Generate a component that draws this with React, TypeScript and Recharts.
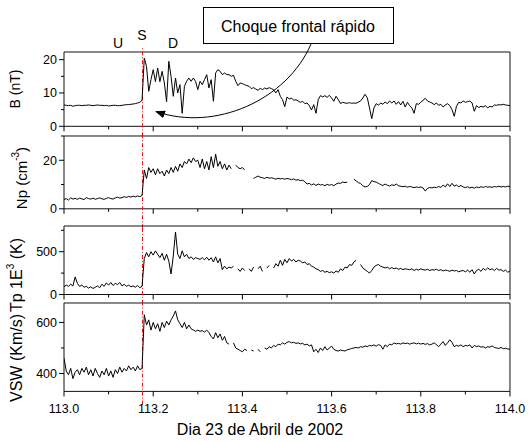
import React from "react";
import { LineChart, Line, XAxis, YAxis, ReferenceArea, ReferenceLine } from "recharts";

const START_DAY = 113.0;
const STEP_DAY = 0.005;
const SHOCK_DAY = 113.176;

const xTicks = [113.0, 113.1, 113.2, 113.3, 113.4, 113.5, 113.6, 113.7, 113.8, 113.9, 114.0];
const xMajor = [113.0, 113.2, 113.4, 113.6, 113.8, 114.0];

// B (nT)
const bField = [
  6.4, 6.3, 6.2, 6.3, 6.0, 6.2, 6.3, 6.3, 6.2, 6.3,
  6.3, 6.4, 6.3, 6.2, 6.3, 6.4, 6.3, 6.3, 6.2, 6.3,
  6.1, 6.2, 6.3, 6.3, 6.2, 6.2, 6.3, 6.4, 6.5, 6.5,
  6.6, 6.7, 6.8, 7.0, 7.2, 7.8, 20.5, 18, 10.5, 14,
  17, 13.4, 17.5, 13.4, 16.5, 13, 7.4, 19.5, 15, 9,
  14.5, 10, 12.5, 3.9, 12, 13.5, 14.5, 13.5, 14.5, 13.5,
  11, 13.5, 12.5, 14, 15.5, 11.5, 14, 7.5, 16, 17,
  16.5, 15.5, 16, 15.5, 15.5, 15, 15.3, 13.5, 12.2, 13,
  12.8, 12.5, 12.2, 12, 11.3, 11.6, 11.2, 10.8, 11.4, 11,
  11.5, 11.2, 11.6, 11.3, 11, 10, 11, 9, 8, 5.9,
  8.8, 8.2, 8.5, 7.8, 8, 7.6, 7.2, 7.5, 6.8, 7,
  6.2, 4.9, 6.5, 3.9, 8, 9.2, 8.8, 9.2, 8.7, 9.3,
  8.5, 7.5, 9.0, 8, 6.8, 7.2, 7, 6.9, 7.1, 6.9,
  7.0, 6.9, 7.3, 7.6, 8.5, 9.6, 8.6, 5.5, 2.3, 5.5,
  6.8, 6.3, 7.0, 6.6, 7.3, 6.8, 7.6, 7.0, 7.6, 6.6,
  7.4, 6.4, 7.5, 5.8, 7.2, 6.2, 5.5, 3.9, 6.8, 6.6,
  7.2, 7.8, 8.4, 7.6, 7.3, 7.0, 6.5, 7.0, 6.3, 6.6,
  5.8, 6.4, 6.8, 6.2, 5.0, 3.0, 6.0, 7.2, 7.0, 7.6,
  7.2, 7.4, 7.6, 7.0, 4.5, 6.2, 5.6, 6.0, 5.8, 6.2,
  5.5, 6.0, 5.8, 6.4, 6.3, 6.5, 6.4, 6.6, 6.4, 6.3,
  6.2,
];

// Np (cm^-3)
const density = [
  3.8, 4.2, 3.6, 4.5, 4.0, 4.3, 3.9, 4.4, 4.1, 3.8,
  4.6, 4.2, 4.0, 4.4, 3.9, 4.2, 4.5, 4.1, 3.9, 4.3,
  4.6, 4.2, 4.0, 4.5, 4.8, 4.4, 4.6, 5.0, 4.7, 5.1,
  4.8, 5.2, 4.9, 5.3, 5.0, 5.5, 16, 12.5, 17, 15,
  16.5, 14, 16.5, 14.5, 15.5, 13.5, 16, 14.5, 17, 15,
  17.5, 15.5, 18.5, 17, 19.5, 18.5, 20.5, 19, 21, 19.5,
  20, 17, 20.5, 16.5, 19.5, 16, 21.5, 17, 22.5, 17.5,
  19.5, 16.5, 18.5, 16, 18, 16.5, null, 18, 17, 16.5,
  17, 16, null, 15.5, null, 12.5, 13, 13.5, 13, 12.8,
  12.5, 13, 12.6, 12.8, 12.5, 12.2, 12.6, 12.3, 12.5, 12.2,
  12.5, 12.3, 12.0, 12.3, 11.8, 12.0, 11.6, 11.8, 11.2, 10.2,
  10.5, 9.8, 10.3, 9.6, 10.2, 9.8, 10.0, 9.5, 10.1, 9.7,
  10.0, 9.5, 10.2, 10.6, 10.5, 11.0, 10.8, 11.0, null, null,
  12.2, 11.5, 10.8, 10.4, 9.5, 9.0, 9.2, 10.0, 11.6, 11.2,
  11.0, 10.5, 10.0, 9.6, 10.2, 9.7, 9.4, 9.9, 9.6, 10.2,
  9.5, 9.3, 9.1, 9.3, 8.9, 9.2, 9.0, 8.7, 9.0, 8.8,
  9.0, 8.6, 7.3, 8.4, 8.8, 8.6, 8.9, 8.7, 9.2, 8.8,
  9.8, 9.0, 10.3, 9.2, 10.5, 9.3, 9.8, 9.1, 9.6, 9.0,
  8.7, 9.1, 8.6, 8.9, 8.5, 9.0, 8.7, 9.1, 8.8, 9.2,
  8.9, 9.1, 8.8, 9.2, 9.0, 9.3, 9.0, 9.2, 9.0, 9.3,
  9.1,
];

// Tp (1E3 K)
const temperature = [
  90, 110, 95, 120, 100, 205, 130, 95, 110, 85,
  95, 75, 90, 70, 85, 100, 80, 120, 95, 135,
  110, 140, 105, 130, 115, 140, 100, 120, 95, 110,
  90, 100, 85, 105, 80, 95, 420, 490, 440, 500,
  460, 510, 470, 430, 480, 400, 470, 390, 240, 450,
  730, 470, 420, 510, 440, 470, 420, 440, 410, 430,
  420, 410, 430, 405, 435, 400, 430, 380, 440, 370,
  420, 290, 330, 300, 320, 310, 330, null, 300, 270,
  310, 280, null, 300, 270, 320, null, 300, 330, 270,
  null, 310, 340, null, 310, 360, 330, 400, 340, 410,
  370, 420, 390, 410, 380, 400, 390, 370, 380, 350,
  360, 330, 320, 300, 290, 270, 280, 260, 270, 255,
  265, 250, 275, 260, 300, 280, 320, 310, 350, 340,
  380, 400, null, 350, 310, 290, 270, 250, 280, 320,
  340, 350, 330, 320, 310, 320, 300, 315, 300, 310,
  295, 305, 290, 300, 295, 290, 300, 280, 295, 285,
  300, 290, 285, 295, 280, 290, 285, 295, 280, 290,
  275, 285, 280, 270, 285, 275, 280, 265, 275, 280,
  265, 285, 260, 290, 240, 280, 295, 270, 305, 285,
  310, 290, 300, 280, 305, 285, 290, 270, 285, 260,
  275,
];

// VSW (Km/s)
const speed = [
  460, 410, 395, 420, 380, 405, 415, 395, 420, 405,
  425, 395, 415, 390, 420, 400, 385, 410, 395, 420,
  390, 410, 385, 415, 400, 425, 405, 420, 410, 430,
  415, 425, 410, 430, 415, 420, 630, 590, 610, 570,
  600, 575, 595, 565, 600, 580, 605, 590, 610, 625,
  645, 610, 595, 580, 600, 575, 590, 575, 570, 565,
  570, 565, 568, 562, 570, 560, 545, 535, 560, 540,
  555, 530, 545, 520, 515, null, 520, 500, 495, 490,
  485, 495, 490, null, 492, 488, null, 495, 485, null,
  500, 495, 505, 500, 510, 505, 515, 512, 520, 515,
  522, 525, 520, 522, 518, 520, 516, 518, 512, 515,
  508, 512, 485, 495, 482, 500, 490, 505, 492, 500,
  507, 495, 490, 488, 492, 490, 488, 493, 495, 498,
  500, 502, 500, 505, 503, 508, 505, 510, 508, 512,
  507, 513, 510, 495, 512, 505, 515, 512, 520, 516,
  518, 515, 520, 517, 519, 515, 518, 520, 516, 519,
  515, 518, 514, 517, 512, 515, 520, 513, 505, 515,
  525, 510, 520, 532, 522, 505, 510, 507, 512, 505,
  510, 508, 512, 500, 510, 505, 508, 503, 505, 500,
  505, 503, 508, 502, 500, 498, 502, 497, 499, 496,
  495,
];

const rows = bField.map((b, i) => ({
  t: +(START_DAY + i * STEP_DAY).toFixed(3),
  b,
  np: density[i],
  tp: temperature[i],
  v: speed[i],
}));

const FONT = "'Liberation Sans', Arial, Helvetica, sans-serif";
const WIDTH = 531;
const AXIS_LEFT = 64;
const RIGHT = 21;
const TOP_SPACE = 8;

type PanelProps = {
  dataKey: string;
  domain: [number, number];
  yTicks: number[];
  yLabels: number[];
  plotTop: number;
  plotHeight: number;
  bottomSpace: number;
  showXLabels: boolean;
  shockLow: number;
  shockHigh: number;
};

function Panel(p: PanelProps) {
  const height = TOP_SPACE + p.plotHeight + p.bottomSpace;
  const axisY = TOP_SPACE + p.plotHeight;
  const renderXTick = (props: any) => {
    const { x, payload } = props;
    const v = payload.value;
    const major = xMajor.some((m) => Math.abs(m - v) < 1e-6);
    return (
      <g>
        <line x1={x} x2={x} y1={axisY} y2={axisY + (major ? 5 : 3)} stroke="#000" strokeWidth={1} />
        {p.showXLabels && major ? (
          <text x={x} y={axisY + 22} textAnchor="middle" fontSize={12.5} fill="#000" fontFamily={FONT}>
            {v.toFixed(1)}
          </text>
        ) : null}
      </g>
    );
  };
  const renderYTick = (props: any) => {
    const { y, payload } = props;
    const v = payload.value;
    const labeled = p.yLabels.includes(v);
    return (
      <g>
        <line x1={AXIS_LEFT} x2={AXIS_LEFT - (labeled ? 5 : 3)} y1={y} y2={y} stroke="#000" strokeWidth={1} />
        {labeled ? (
          <text x={AXIS_LEFT - 7} y={y + 4.5} textAnchor="end" fontSize={12.5} fill="#000" fontFamily={FONT}>
            {v}
          </text>
        ) : null}
      </g>
    );
  };
  return (
    <div style={{ position: "absolute", left: 0, top: p.plotTop - TOP_SPACE }}>
      <LineChart
        width={WIDTH}
        height={height}
        data={rows}
        margin={{ top: TOP_SPACE, right: RIGHT, left: 0, bottom: 0 }}
      >
        <XAxis
          dataKey="t"
          type="number"
          domain={[113, 114]}
          ticks={xTicks}
          interval={0}
          tick={renderXTick}
          tickLine={false}
          axisLine={false}
          height={p.bottomSpace}
          allowDataOverflow
        />
        <YAxis
          type="number"
          domain={p.domain}
          ticks={p.yTicks}
          interval={0}
          tick={renderYTick}
          tickLine={false}
          axisLine={false}
          width={AXIS_LEFT}
          allowDataOverflow
        />
        <ReferenceArea
          x1={113}
          x2={114}
          y1={p.domain[0]}
          y2={p.domain[1]}
          fill="none"
          fillOpacity={0}
          stroke="#111"
          strokeWidth={1}
          ifOverflow="visible"
        />
        <ReferenceLine
          segment={[
            { x: SHOCK_DAY, y: p.shockLow },
            { x: SHOCK_DAY, y: p.shockHigh },
          ]}
          stroke="#e8141c"
          strokeWidth={1}
          strokeDasharray="4 2 1 2"
          ifOverflow="visible"
        />
        <Line
          dataKey={p.dataKey}
          type="linear"
          stroke="#000"
          strokeWidth={1}
          dot={false}
          connectNulls={false}
          isAnimationActive={false}
        />
      </LineChart>
    </div>
  );
}

export default function App() {
  return (
    <div style={{ position: "absolute", left: 0, top: 0, width: WIDTH, height: 441, background: "#fff", fontFamily: FONT }}>
      <Panel dataKey="b" domain={[0, 22.3]} yTicks={[0, 5, 10, 15, 20]} yLabels={[0, 10, 20]}
        plotTop={51.7} plotHeight={74.3} bottomSpace={10} showXLabels={false} shockLow={-3} shockHigh={23.6} />
      <Panel dataKey="np" domain={[0, 30]} yTicks={[0, 10, 20, 30]} yLabels={[0, 20]}
        plotTop={135.5} plotHeight={72.8} bottomSpace={20} showXLabels={false} shockLow={-8} shockHigh={30} />
      <Panel dataKey="tp" domain={[0, 800]} yTicks={[0, 250, 500, 750]} yLabels={[0, 500]}
        plotTop={225.7} plotHeight={68.5} bottomSpace={12} showXLabels={false} shockLow={-110} shockHigh={800} />
      <Panel dataKey="v" domain={[330, 676]} yTicks={[400, 500, 600]} yLabels={[400, 600]}
        plotTop={303.4} plotHeight={88.4} bottomSpace={30} showXLabels={true} shockLow={278} shockHigh={676} />
      <svg width={WIDTH} height={441} style={{ position: "absolute", left: 0, top: 0, pointerEvents: "none" }}>
        <defs>
          <marker id="ah" markerWidth="10" markerHeight="8" refX="9" refY="4" orient="auto" markerUnits="userSpaceOnUse">
            <path d="M0,0 L10,4 L0,8 Z" fill="#000" />
          </marker>
        </defs>
        <text transform="translate(15,89) rotate(-90)" textAnchor="middle" dominantBaseline="central" fontSize={14} fill="#000" fontFamily={FONT}>B (nT)</text>
        <text transform="translate(21,178) rotate(-90)" textAnchor="middle" dominantBaseline="central" fontSize={15} fill="#000" fontFamily={FONT}>
          Np (cm<tspan fontSize={10} dy={-6}>-3</tspan><tspan dy={6}>)</tspan>
        </text>
        <text transform="translate(16,275) rotate(-90)" textAnchor="middle" dominantBaseline="central" fontSize={16} fill="#000" fontFamily={FONT}>
          Tp 1E<tspan fontSize={10} dy={-6}>3</tspan><tspan dy={6}> (K)</tspan>
        </text>
        <text transform="translate(16,358) rotate(-90)" textAnchor="middle" dominantBaseline="central" fontSize={16} fill="#000" fontFamily={FONT}>VSW (Km/s)</text>
        <text x={260} y={435} textAnchor="middle" fontSize={16} fill="#000" fontFamily={FONT}>Dia 23 de Abril de 2002</text>
        <text x={118} y={48} textAnchor="middle" fontSize={14} fill="#000" fontFamily={FONT}>U</text>
        <text x={142} y={40} textAnchor="middle" fontSize={14} fill="#000" fontFamily={FONT}>S</text>
        <text x={173} y={48} textAnchor="middle" fontSize={14} fill="#000" fontFamily={FONT}>D</text>
        <rect x={203.5} y={7.5} width={190} height={36} fill="#fff" stroke="#000" strokeWidth={1} />
        <text x={298} y={32} textAnchor="middle" fontSize={16} fill="#000" fontFamily={FONT}>Choque frontal rápido</text>
        <path d="M311,44 C287,100 215,132 156,111.5" fill="none" stroke="#000" strokeWidth={1} markerEnd="url(#ah)" />
      </svg>
    </div>
  );
}
